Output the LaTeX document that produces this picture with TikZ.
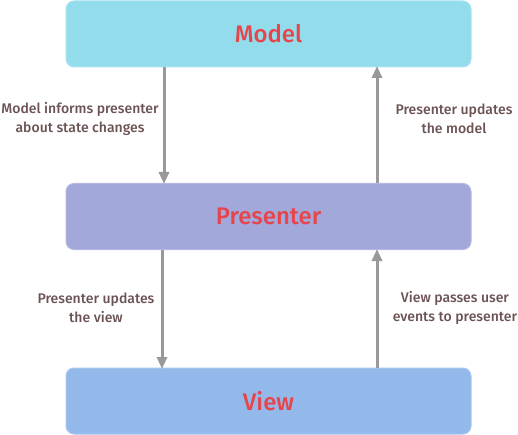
\documentclass[tikz,border=0pt]{standalone}
\usepackage{fontspec}
\setmainfont{Lato}
\newfontfamily\labfont{Fira Sans Medium}
\newfontfamily\titfont{Fira Sans Medium}
\usetikzlibrary{arrows.meta}
\definecolor{modelc}{HTML}{93DCEB}
\definecolor{modelb}{HTML}{A9E4F0}
\definecolor{presc}{HTML}{A3A8DB}
\definecolor{presb}{HTML}{B4B8E2}
\definecolor{viewc}{HTML}{93B9EA}
\definecolor{viewb}{HTML}{A8C7EF}
\definecolor{titlec}{HTML}{E6454B}
\definecolor{labc}{HTML}{6B5253}
\definecolor{arrc}{HTML}{999999}
\tikzset{
  box/.style={rounded corners=8pt, line width=1pt, minimum width=405pt, minimum height=66pt, inner sep=0pt,
    font=\titfont\fontsize{24}{26}\selectfont, text=titlec},
  lab/.style={font=\labfont\fontsize{14}{19}\selectfont, text=labc, align=center, inner sep=0pt},
  flow/.style={draw=arrc, line width=3pt, -{Triangle[length=12pt,width=10pt]}, shorten >=-1pt}
}
\begin{document}
\begin{tikzpicture}[x=1pt,y=-1pt]
\useasboundingbox (0,0) rectangle (518,435);
\node[box, fill=modelc, draw=modelb] (model) at (268.5,34) {Model};
\node[box, fill=presc, draw=presb] (pres) at (268.5,216.5) {Presenter};
\node[box, fill=viewc, draw=viewb] (view) at (268.5,401) {View};
\coordinate (a1) at (164,67);
\coordinate (a2) at (164,183);
\coordinate (b1) at (377,183);
\coordinate (b2) at (377,67);
\coordinate (c1) at (162,250);
\coordinate (c2) at (162,368);
\coordinate (d1) at (377,368);
\coordinate (d2) at (377,250);
\draw[flow] (a1) -- (a2);
\draw[flow] (b1) -- (b2);
\draw[flow] (c1) -- (c2);
\draw[flow] (d1) -- (d2);
\node[lab] (l1) at (80,119) {Model informs presenter\\about state changes};
\node[lab] (l2) at (454,119) {Presenter updates\\the model};
\node[lab] (l3) at (96,308) {Presenter updates\\the view};
\node[lab] (l4) at (455,308) {View passes user\\events to presenter};
\end{tikzpicture}
\end{document}
